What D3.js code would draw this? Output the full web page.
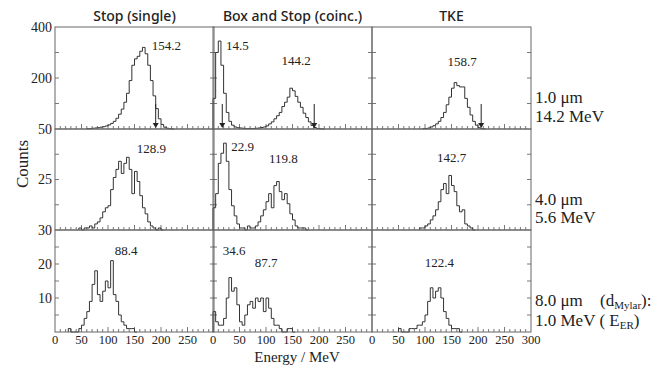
<!DOCTYPE html>
<html>
<head>
<meta charset="utf-8">
<script src="https://cdn.jsdelivr.net/npm/d3@7"></script>
<style>
  body { margin: 0; background: #fff; }
  svg { display: block; }
  .serif { font-family: 'Liberation Serif', 'Times New Roman', Times, serif; }
  .sans { font-family: 'Noto Sans', 'DejaVu Sans', sans-serif; }
</style>
</head>
<body>
<div id="chart"></div>
<script>
// bin width 5 MeV; each series starts at the energy given in seriesStart
const binWidth = 5;

const stop1 = [1, 2, 3, 4, 5, 7, 9, 12, 16, 22, 30, 42, 58, 78, 105, 140, 190, 250, 275, 285, 305, 320, 295, 250, 190, 130, 80, 40, 18, 7, 3, 1];
const box1 = [120, 300, 345, 250, 140, 65, 30, 15, 8, 5, 4, 3, 2, 2, 2, 2, 3, 4, 6, 8, 12, 20, 28, 40, 52, 65, 88, 105, 125, 160, 150, 128, 105, 85, 62, 45, 28, 14, 6, 2, 1];
const tke1 = [1, 2, 4, 8, 13, 20, 30, 45, 65, 95, 125, 160, 182, 170, 165, 165, 120, 85, 55, 30, 15, 5, 2];

const stop4 = [1, 0, 1, 1, 2, 1, 3, 4, 6, 9, 11, 12, 20, 26, 30, 34, 28, 33, 36, 30, 18, 29, 24, 17, 11, 8, 4, 2, 1, 0, 1];
const box4 = [11, 18, 33, 38, 43, 34, 20, 12, 7, 3, 1, 1, 0, 2, 1, 1, 2, 4, 7, 10, 14, 18, 11, 22, 24, 19, 15, 18, 13, 8, 5, 2, 1, 1, 1];
const tke4 = [1, 1, 2, 3, 5, 7, 10, 14, 20, 23, 18, 27, 22, 19, 12, 9, 10, 3, 2, 1];

const stop8 = [1, 0, 0, 0, 1, 2, 4, 6, 9, 14, 18, 11, 9, 12, 15, 13, 21, 11, 9, 5, 3, 2, 1, 1, 1];
const box8 = [6, 3, 2, 2, 4, 10, 16, 12, 13, 8, 3, 2, 5, 8, 9, 7, 10, 9, 10, 6, 10, 7, 4, 2, 2, 1, 0, 0, 1, 1];
const tke8 = [1, 0, 0, 0, 1, 1, 1, 2, 2, 3, 5, 9, 13, 10, 12, 13, 10, 6, 4, 2, 1, 1, 1];

const series = [
  [stop1, box1, tke1],
  [stop4, box4, tke4],
  [stop8, box8, tke8]
];
const seriesStart = [
  [60, 0, 95],
  [45, 0, 90],
  [25, 0, 50]
];

// mean-energy labels [text, energy, count]
const peakLabels = [
  [[['154.2', 210, 310]], [['14.5', 46, 310], ['144.2', 157, 251]], [['158.7', 170, 247]]],
  [[['128.9', 182, 38]], [['22.9', 56, 39], ['119.8', 133, 33]], [['142.7', 150, 33.5]]],
  [[['88.4', 134, 22.6]], [['34.6', 40, 22.6], ['87.7', 100, 19]], [['122.4', 127, 19]]]
];

// cut arrows (energy) on the 1.0 um row
const cutArrows = [[190], [17.5, 191], [206]];

const colTitles = ['Stop (single)', 'Box and Stop (coinc.)', 'TKE'];
const yMax = [400, 50, 30];
const yTicks = [[100, 200, 300], [12.5, 25, 37.5], [5, 10, 15, 20, 25]];
const yTickLabels = [[200, 400], [25, 50], [10, 20, 30]];
const xTickLabels = [0, 50, 100, 150, 200, 250];

const W = 656, H = 365;
const colLeft = [55, 213, 372];
const panelW = 159;
const rowTop = [27, 129, 230];
const rowBottom = [129, 230, 332];

const svg = d3.select('#chart').append('svg')
  .attr('width', W)
  .attr('height', H);

const ink = '#222';

colTitles.forEach((t, c) => {
  svg.append('text')
    .attr('class', 'sans')
    .attr('x', colLeft[c] + panelW / 2)
    .attr('y', 21)
    .attr('text-anchor', 'middle')
    .attr('font-size', 14)
    .attr('font-weight', 500)
    .attr('fill', ink)
    .text(t);
});

for (let r = 0; r < 3; r++) {
  const y = d3.scaleLinear().domain([0, yMax[r]]).range([rowBottom[r], rowTop[r]]);
  for (let c = 0; c < 3; c++) {
    const x = d3.scaleLinear().domain([0, 300]).range([colLeft[c], colLeft[c] + panelW]);
    const g = svg.append('g');

    // x ticks (inside, pointing up)
    const xt = d3.range(10, 300, 10);
    g.selectAll('line.xt').data(xt).join('line')
      .attr('x1', d => x(d)).attr('x2', d => x(d))
      .attr('y1', rowBottom[r])
      .attr('y2', d => rowBottom[r] - (d % 50 === 0 ? 5 : 3))
      .attr('stroke', '#555').attr('stroke-width', 0.8);

    // y ticks on both sides
    g.selectAll('line.yl').data(yTicks[r]).join('line')
      .attr('x1', colLeft[c]).attr('x2', colLeft[c] + 4)
      .attr('y1', d => y(d)).attr('y2', d => y(d))
      .attr('stroke', '#555').attr('stroke-width', 0.8);
    g.selectAll('line.yr').data(yTicks[r]).join('line')
      .attr('x1', colLeft[c] + panelW).attr('x2', colLeft[c] + panelW - 4)
      .attr('y1', d => y(d)).attr('y2', d => y(d))
      .attr('stroke', '#555').attr('stroke-width', 0.8);

    // histogram
    const counts = series[r][c];
    const s0 = seriesStart[r][c];
    const pts = [[s0, 0]];
    counts.forEach((v, i) => pts.push([s0 + i * binWidth, v]));
    pts.push([s0 + counts.length * binWidth, 0]);
    pts.push([s0 + counts.length * binWidth + binWidth, 0]);
    const line = d3.line()
      .x(d => x(d[0]))
      .y(d => y(Math.min(d[1], yMax[r])))
      .curve(d3.curveStepAfter);
    g.append('path')
      .attr('d', line(pts))
      .attr('fill', 'none')
      .attr('stroke', '#333')
      .attr('stroke-width', 1);

    // frame
    g.append('rect')
      .attr('x', colLeft[c]).attr('y', rowTop[r])
      .attr('width', panelW).attr('height', rowBottom[r] - rowTop[r])
      .attr('fill', 'none').attr('stroke', '#666').attr('stroke-width', 1);

    // labels
    peakLabels[r][c].forEach(([t, e, v]) => {
      g.append('text')
        .attr('class', 'serif')
        .attr('x', x(e)).attr('y', y(v))
        .attr('text-anchor', 'middle')
        .attr('font-size', 13)
        .attr('fill', ink)
        .text(t);
    });

    if (r === 0) {
      cutArrows[c].forEach(e => {
        g.append('line')
          .attr('x1', x(e)).attr('x2', x(e))
          .attr('y1', y(98)).attr('y2', y(20))
          .attr('stroke', '#222').attr('stroke-width', 1);
        g.append('path')
          .attr('d', `M${x(e) - 3},${y(24)} L${x(e) + 3},${y(24)} L${x(e)},${y(4)} Z`)
          .attr('fill', '#222');
      });
    }

    // x tick labels on bottom row
    if (r === 2) {
      const labs = c === 2 ? xTickLabels.concat([300]) : xTickLabels;
      g.selectAll('text.xl').data(labs).join('text')
        .attr('class', 'serif')
        .attr('x', d => x(d)).attr('y', 344)
        .attr('text-anchor', 'middle')
        .attr('font-size', 12.5)
        .attr('fill', ink)
        .text(d => d);
    }
    // y tick labels on first column
    if (c === 0) {
      g.selectAll('text.yl').data(yTickLabels[r]).join('text')
        .attr('class', 'serif')
        .attr('x', 52).attr('y', d => y(d) + 4.5)
        .attr('text-anchor', 'end')
        .attr('font-size', 14)
        .attr('fill', ink)
        .text(d => d);
    }
  }
}

// axis titles
svg.append('text')
  .attr('class', 'serif')
  .attr('transform', 'translate(28,164) rotate(-90)')
  .attr('text-anchor', 'middle')
  .attr('font-size', 17)
  .attr('fill', ink)
  .text('Counts');

svg.append('text')
  .attr('class', 'serif')
  .attr('x', 297).attr('y', 361.5)
  .attr('text-anchor', 'middle')
  .attr('font-size', 15)
  .attr('fill', ink)
  .text('Energy / MeV');

// row annotations on the right
const rightLabels = [
  ['1.0 μm', 103], ['14.2 MeV', 122],
  ['4.0 μm', 205], ['5.6 MeV', 223],
  ['8.0 μm', 306]
];
rightLabels.forEach(([t, yy]) => {
  svg.append('text')
    .attr('class', 'serif')
    .attr('x', 535).attr('y', yy)
    .attr('font-size', 17)
    .attr('fill', ink)
    .text(t);
});

const dLab = svg.append('text')
  .attr('class', 'serif')
  .attr('x', 600).attr('y', 306)
  .attr('font-size', 17)
  .attr('fill', ink);
dLab.append('tspan').text('(d');
dLab.append('tspan').attr('font-size', 11).attr('dy', 3).text('Mylar');
dLab.append('tspan').attr('dy', -3).text('):');

const eLab = svg.append('text')
  .attr('class', 'serif')
  .attr('x', 535).attr('y', 326)
  .attr('font-size', 17)
  .attr('fill', ink);
eLab.append('tspan').text('1.0 MeV ( E');
eLab.append('tspan').attr('font-size', 11).attr('dy', 3).text('ER');
eLab.append('tspan').attr('dy', -3).text(')');
</script>
</body>
</html>
